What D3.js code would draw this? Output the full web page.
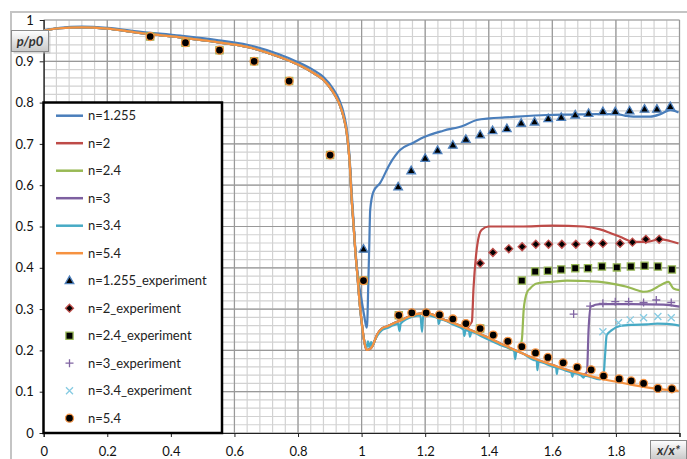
<!DOCTYPE html>
<html>
<head>
<meta charset="utf-8">
<script src="https://cdn.jsdelivr.net/npm/d3@7"></script>
<style>
  body { margin: 0; background: #fff; }
  text { font-family: Lato, "Open Sans", sans-serif; }
</style>
</head>
<body>
<div class="chart"></div>
<script>
// base curve = n=5.4 (the other n follow it until their own jump)
var baseX = [0, 0.05, 0.12, 0.2, 0.3, 0.43, 0.55, 0.64, 0.74, 0.8, 0.85, 0.88, 0.91, 0.93, 0.945, 0.955, 0.962, 0.969, 0.975, 0.98, 0.987, 0.993, 1.0, 1.006, 1.011, 1.016, 1.025, 1.035, 1.042, 1.05, 1.064, 1.08, 1.1, 1.13, 1.163, 1.185, 1.205, 1.225, 1.247, 1.29, 1.331, 1.38, 1.436, 1.49, 1.541, 1.6, 1.646, 1.7, 1.75, 1.8, 1.855, 1.92, 1.997];
var baseY = [0.974, 0.98, 0.982, 0.979, 0.969, 0.958, 0.946, 0.935, 0.911, 0.892, 0.871, 0.855, 0.826, 0.797, 0.76, 0.717, 0.66, 0.564, 0.5, 0.443, 0.38, 0.322, 0.27, 0.233, 0.212, 0.201, 0.203, 0.212, 0.225, 0.24, 0.253, 0.258, 0.265, 0.275, 0.286, 0.289, 0.29, 0.286, 0.278, 0.266, 0.253, 0.237, 0.217, 0.198, 0.181, 0.165, 0.153, 0.142, 0.132, 0.124, 0.116, 0.108, 0.102];

var n1255X = [0, 0.05, 0.12, 0.2, 0.3, 0.43, 0.55, 0.64, 0.74, 0.8, 0.85, 0.88, 0.91, 0.93, 0.945, 0.955, 0.962, 0.969, 0.975, 0.98, 0.99, 1.0, 1.008, 1.016, 1.018, 1.021, 1.024, 1.027, 1.037, 1.058, 1.09, 1.121, 1.163, 1.195, 1.257, 1.32, 1.362, 1.404, 1.45, 1.488, 1.583, 1.66, 1.74, 1.803, 1.83, 1.855, 1.908, 1.94, 1.971, 1.985, 1.997];
var n1255Y = [0.975, 0.981, 0.984, 0.981, 0.972, 0.962, 0.951, 0.94, 0.917, 0.898, 0.878, 0.862, 0.834, 0.806, 0.77, 0.727, 0.67, 0.58, 0.51, 0.45, 0.37, 0.322, 0.285, 0.255, 0.27, 0.36, 0.45, 0.54, 0.584, 0.605, 0.653, 0.685, 0.703, 0.716, 0.732, 0.744, 0.758, 0.762, 0.764, 0.766, 0.770, 0.771, 0.772, 0.772, 0.768, 0.766, 0.766, 0.772, 0.782, 0.780, 0.776];

// after the jump
var n2X = [1.34, 1.347, 1.352, 1.36, 1.37, 1.378, 1.399, 1.5, 1.6, 1.7, 1.75, 1.78, 1.813, 1.855, 1.897, 1.939, 1.97, 1.997];
var n2Y = [0.262, 0.27, 0.35, 0.43, 0.48, 0.492, 0.5, 0.5, 0.502, 0.5, 0.493, 0.485, 0.475, 0.463, 0.463, 0.469, 0.465, 0.459];
var n24X = [1.504, 1.51, 1.52, 1.53, 1.551, 1.6, 1.646, 1.7, 1.75, 1.8, 1.834, 1.87, 1.887, 1.91, 1.929, 1.95, 1.965, 1.981, 2.0];
var n24Y = [0.225, 0.3, 0.34, 0.35, 0.362, 0.366, 0.369, 0.368, 0.366, 0.36, 0.354, 0.345, 0.342, 0.345, 0.353, 0.362, 0.366, 0.35, 0.346];
var n3X = [1.709, 1.714, 1.721, 1.75, 1.85, 1.95, 2.0];
var n3Y = [0.148, 0.25, 0.306, 0.312, 0.312, 0.311, 0.306];
var n34X = [1.006, 1.011, 1.016, 1.02, 1.024, 1.03, 1.035, 1.042, 1.05, 1.064, 1.08, 1.1, 1.115, 1.119, 1.123, 1.163, 1.185, 1.19, 1.194, 1.205, 1.225, 1.24, 1.243, 1.247, 1.29, 1.32, 1.323, 1.327, 1.338, 1.341, 1.345, 1.38, 1.436, 1.48, 1.483, 1.487, 1.541, 1.551, 1.553, 1.556, 1.6, 1.612, 1.614, 1.617, 1.646, 1.66, 1.663, 1.666, 1.69, 1.698, 1.702, 1.75, 1.761, 1.766, 1.771, 1.787, 1.813, 1.855, 1.897, 1.93, 1.96, 2.0];
var n34Y = [0.233, 0.215, 0.207, 0.222, 0.208, 0.22, 0.212, 0.225, 0.236, 0.249, 0.254, 0.261, 0.264, 0.247, 0.265, 0.282, 0.285, 0.245, 0.286, 0.286, 0.282, 0.278, 0.264, 0.275, 0.262, 0.251, 0.235, 0.249, 0.246, 0.233, 0.245, 0.233, 0.213, 0.199, 0.179, 0.198, 0.177, 0.174, 0.152, 0.173, 0.161, 0.158, 0.143, 0.157, 0.15, 0.146, 0.136, 0.145, 0.14, 0.134, 0.139, 0.13, 0.14, 0.19, 0.237, 0.249, 0.259, 0.262, 0.263, 0.265, 0.264, 0.26];

// experiment points
var e1255X = [1.006, 1.115, 1.156, 1.2, 1.239, 1.287, 1.328, 1.373, 1.412, 1.457, 1.502, 1.544, 1.587, 1.628, 1.672, 1.714, 1.759, 1.798, 1.843, 1.89, 1.929, 1.971];
var e1255Y = [0.445, 0.596, 0.635, 0.665, 0.684, 0.697, 0.711, 0.722, 0.732, 0.737, 0.75, 0.753, 0.761, 0.764, 0.77, 0.774, 0.778, 0.778, 0.78, 0.784, 0.784, 0.79];
var e2X = [1.373, 1.413, 1.463, 1.505, 1.548, 1.588, 1.63, 1.674, 1.721, 1.759, 1.813, 1.852, 1.894, 1.936];
var e2Y = [0.411, 0.437, 0.446, 0.451, 0.457, 0.457, 0.457, 0.457, 0.459, 0.459, 0.459, 0.462, 0.469, 0.469];
var e24X = [0.335, 0.446, 0.553, 0.662, 0.772, 0.901, 1.006, 1.117, 1.373, 1.504, 1.546, 1.586, 1.628, 1.672, 1.712, 1.756, 1.803, 1.847, 1.89, 1.932, 1.976];
var e24Y = [0.96, 0.945, 0.927, 0.9, 0.852, 0.673, 0.369, 0.285, 0.253, 0.369, 0.391, 0.393, 0.396, 0.399, 0.399, 0.403, 0.401, 0.403, 0.405, 0.403, 0.396];
var e3X = [1.667, 1.719, 1.759, 1.798, 1.84, 1.887, 1.927, 1.974];
var e3Y = [0.288, 0.307, 0.314, 0.318, 0.318, 0.316, 0.322, 0.316];
var e34X = [1.759, 1.808, 1.845, 1.887, 1.932, 1.974];
var e34Y = [0.245, 0.267, 0.274, 0.279, 0.282, 0.279];
var e54X = [0.335, 0.446, 0.553, 0.662, 0.772, 0.901, 1.006, 1.117, 1.158, 1.203, 1.245, 1.287, 1.328, 1.373, 1.414, 1.46, 1.504, 1.547, 1.586, 1.634, 1.678, 1.722, 1.761, 1.81, 1.848, 1.887, 1.932, 1.976];
var e54Y = [0.96, 0.945, 0.927, 0.9, 0.852, 0.673, 0.369, 0.285, 0.291, 0.291, 0.286, 0.276, 0.265, 0.253, 0.237, 0.222, 0.209, 0.194, 0.183, 0.17, 0.159, 0.153, 0.138, 0.131, 0.126, 0.12, 0.108, 0.107];

var yTicks = [0, 0.1, 0.2, 0.3, 0.4, 0.5, 0.6, 0.7, 0.8, 0.9, 1];
var yLabels = ["0", "0.1", "0.2", "0.3", "0.4", "0.5", "0.6", "0.7", "0.8", "0.9", "1"];
var xTicks = [0, 0.2, 0.4, 0.6, 0.8, 1, 1.2, 1.4, 1.6, 1.8, 2];
// last one ("2") sits under the x/x* box in the original, so it is left blank
var xLabels = ["0", "0.2", "0.4", "0.6", "0.8", "1", "1.2", "1.4", "1.6", "1.8", ""];

function zip(xa, ya) {
  return xa.map(function(x, i) { return [x, ya[i]]; });
}
// base part before the jump + own tail
function withBase(cut, xa, ya) {
  return zip(baseX, baseY).filter(function(d) { return d[0] < cut; }).concat(zip(xa, ya));
}

var width = 687, height = 459;
var x = d3.scaleLinear().domain([0, 2]).range([43.7, 679.5]);
var y = d3.scaleLinear().domain([0, 1]).range([433, 20]);

var svg = d3.select(".chart").append("svg")
  .attr("width", width)
  .attr("height", height);

svg.append("rect").attr("width", width).attr("height", height).attr("fill", "#fff");

// outer chart frame (only left and top show)
svg.append("path")
  .attr("d", "M11,459V12H687")
  .attr("fill", "none")
  .attr("stroke", "#c4c4c4")
  .attr("stroke-width", 2);

// grid
var grid = svg.append("g");
var minorX = d3.range(0, 51).map(function(i) { return i * 0.04; });
var minorY = d3.range(0, 51).map(function(i) { return i * 0.02; });
grid.selectAll(".mx").data(minorX).enter().append("line")
  .attr("x1", function(d) { return x(d); }).attr("x2", function(d) { return x(d); })
  .attr("y1", y(0)).attr("y2", y(1))
  .attr("stroke", "#d2d2d2").attr("stroke-width", 1.2);
grid.selectAll(".my").data(minorY).enter().append("line")
  .attr("y1", function(d) { return y(d); }).attr("y2", function(d) { return y(d); })
  .attr("x1", x(0)).attr("x2", x(2))
  .attr("stroke", "#d2d2d2").attr("stroke-width", 1.2);
grid.selectAll(".Mx").data(xTicks).enter().append("line")
  .attr("x1", function(d) { return x(d); }).attr("x2", function(d) { return x(d); })
  .attr("y1", y(0)).attr("y2", y(1))
  .attr("stroke", "#999").attr("stroke-width", 1.2);
grid.selectAll(".My").data(yTicks).enter().append("line")
  .attr("y1", function(d) { return y(d); }).attr("y2", function(d) { return y(d); })
  .attr("x1", x(0)).attr("x2", x(2))
  .attr("stroke", "#999").attr("stroke-width", 1.2);

// axes
var yAxis = d3.axisLeft(y).tickValues(yTicks).tickSize(4).tickPadding(6)
  .tickFormat(function(d, i) { return yLabels[i]; });
var xAxis = d3.axisBottom(x).tickValues(xTicks).tickSize(4).tickPadding(10)
  .tickFormat(function(d, i) { return xLabels[i]; });

var gy = svg.append("g").attr("transform", "translate(" + x(0) + ",0)").call(yAxis);
var gx = svg.append("g").attr("transform", "translate(0," + y(0) + ")").call(xAxis);
[gx, gy].forEach(function(g) {
  g.select(".domain").attr("stroke", "#222").attr("stroke-width", 1.2);
  g.selectAll(".tick line").attr("stroke", "#222");
  g.selectAll(".tick text").attr("font-size", 13).attr("fill", "#111")
    .style("font-family", "Lato, 'Open Sans', sans-serif");
});
gy.select(".tick:last-of-type line").remove();

// lines
var line = d3.line()
  .x(function(d) { return x(d[0]); })
  .y(function(d) { return y(d[1]); })
  .curve(d3.curveMonotoneX);

var lines = [
  { name: "n=1.255", color: "#4A7EBB", pts: zip(n1255X, n1255Y) },
  { name: "n=2", color: "#BE4B48", pts: withBase(1.335, n2X, n2Y) },
  { name: "n=2.4", color: "#98B954", pts: withBase(1.5, n24X, n24Y) },
  { name: "n=3", color: "#7D60A0", pts: withBase(1.705, n3X, n3Y) },
  { name: "n=3.4", color: "#46AAC5", pts: withBase(1.0, n34X, n34Y) },
  { name: "n=5.4", color: "#F69240", pts: zip(baseX, baseY) }
];

var plot = svg.append("g");
lines.forEach(function(s) {
  plot.append("path")
    .attr("d", line(s.pts))
    .attr("fill", "none")
    .attr("stroke", s.color)
    .attr("stroke-width", 2.2)
    .attr("stroke-linejoin", "round");
});

// markers
var shapes = {
  tri: "M0,-4.6L4.3,3L-4.3,3Z",
  dia: "M0,-4L4,0L0,4L-4,0Z",
  sq: "M-3.6,-3.6H3.6V3.6H-3.6Z",
  plus: "M-4,0H4M0,-4V4",
  cross: "M-3.5,-3.5L3.5,3.5M-3.5,3.5L3.5,-3.5",
  circ: "M4,0A4,4 0 1,1 -4,0A4,4 0 1,1 4,0Z"
};

var markers = [
  { name: "n=1.255_experiment", shape: "tri", fill: "#000", stroke: "#4F81BD", pts: zip(e1255X, e1255Y) },
  { name: "n=2_experiment", shape: "dia", fill: "#000", stroke: "#C0504D", pts: zip(e2X, e2Y) },
  { name: "n=2.4_experiment", shape: "sq", fill: "#000", stroke: "#9BBB59", pts: zip(e24X, e24Y) },
  { name: "n=3_experiment", shape: "plus", fill: "none", stroke: "#8064A2", pts: zip(e3X, e3Y) },
  { name: "n=3.4_experiment", shape: "cross", fill: "none", stroke: "#86CBE2", pts: zip(e34X, e34Y) },
  { name: "n=5.4", shape: "circ", fill: "#000", stroke: "#F79646", pts: zip(e54X, e54Y) }
];

markers.forEach(function(m) {
  plot.selectAll(null).data(m.pts).enter().append("path")
    .attr("transform", function(d) { return "translate(" + x(d[0]) + "," + y(d[1]) + ")"; })
    .attr("d", shapes[m.shape])
    .attr("fill", m.fill)
    .attr("stroke", m.stroke)
    .attr("stroke-width", 1.3);
});

// legend
var leg = svg.append("g");
leg.append("rect")
  .attr("x", 43.5).attr("y", 102.5)
  .attr("width", 178.5).attr("height", 330.5)
  .attr("fill", "#fff")
  .attr("stroke", "#000")
  .attr("stroke-width", 2.5);

var items = lines.map(function(s) { return { name: s.name, color: s.color, kind: "line" }; })
  .concat(markers.map(function(m) { return { name: m.name, m: m, kind: "mark" }; }));

items.forEach(function(it, i) {
  var ly = 115.7 + i * 27.5;
  if (it.kind == "line") {
    leg.append("line")
      .attr("x1", 56).attr("x2", 83).attr("y1", ly).attr("y2", ly)
      .attr("stroke", it.color).attr("stroke-width", 2.5);
  } else {
    leg.append("path")
      .attr("transform", "translate(69.5," + ly + ")")
      .attr("d", shapes[it.m.shape])
      .attr("fill", it.m.fill)
      .attr("stroke", it.m.stroke)
      .attr("stroke-width", 1.3);
  }
  leg.append("text")
    .attr("x", 88).attr("y", ly).attr("dy", "0.35em")
    .attr("font-size", 13).attr("fill", "#222")
    .text(it.name);
});

// axis title boxes
var defs = svg.append("defs");
var grad = defs.append("linearGradient").attr("id", "boxg").attr("x1", 0).attr("y1", 0).attr("x2", 0).attr("y2", 1);
grad.append("stop").attr("offset", "0%").attr("stop-color", "#ffffff");
grad.append("stop").attr("offset", "100%").attr("stop-color", "#c8c8c8");

function titleBox(bx, by, bw, bh, label) {
  svg.append("rect")
    .attr("x", bx + 2).attr("y", by + 2).attr("width", bw).attr("height", bh)
    .attr("fill", "#bbb").attr("opacity", 0.6);
  svg.append("rect")
    .attr("x", bx).attr("y", by).attr("width", bw).attr("height", bh)
    .attr("fill", "url(#boxg)").attr("stroke", "#8a8a8a").attr("stroke-width", 1);
  svg.append("text")
    .attr("x", bx + bw / 2).attr("y", by + bh / 2).attr("dy", "0.35em")
    .attr("text-anchor", "middle")
    .attr("font-size", 13).attr("font-weight", "bold").attr("font-style", "italic")
    .attr("fill", "#333")
    .text(label);
}
titleBox(11.5, 30.5, 37, 21, "p/p0");
titleBox(650.5, 440.5, 36, 19, "x/x*");
</script>
</body>
</html>
